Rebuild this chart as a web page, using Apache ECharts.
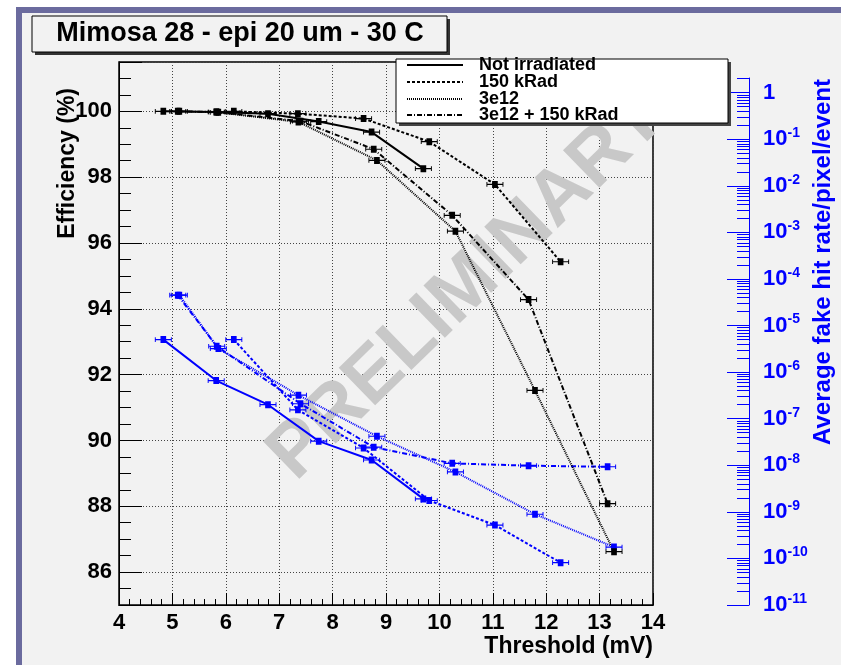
<!DOCTYPE html>
<html>
<head>
<meta charset="utf-8">
<script src="https://cdn.jsdelivr.net/npm/echarts@6.0.0/dist/echarts.min.js"></script>
<style>
html, body { margin: 0; padding: 0; background: #fff; }
#chart { width: 841px; height: 665px; }
</style>
</head>
<body>
<div id="chart"></div>
<script>
// values
var seriesNames = ['Not irradiated', '150 kRad', '3e12', '3e12 + 150 kRad'];

var notIrrX    = [4.83, 5.82, 6.79, 7.74, 8.73, 9.70];
var notIrrEff  = [100.0, 99.98, 99.93, 99.69, 99.37, 98.26];
var notIrrFake = [5.0e-6, 6.6e-7, 2.0e-7, 3.3e-8, 1.3e-8, 1.9e-9];

var k150X    = [6.15, 7.35, 8.58, 9.81, 11.04, 12.27];
var k150Eff  = [100.0, 99.93, 99.78, 99.08, 97.78, 95.43];
var k150Fake = [5.0e-6, 1.55e-7, 2.35e-8, 1.75e-9, 5.2e-10, 8.1e-11];

var e12X    = [5.13, 5.86, 7.36, 8.83, 10.30, 11.79, 13.27];
var e12Eff  = [100.0, 99.97, 99.68, 98.51, 96.36, 91.52, 86.62];
var e12Fake = [4.5e-5, 3.2e-6, 3.2e-7, 4.2e-8, 7.2e-9, 8.9e-10, 1.75e-10];

var e12kX    = [5.10, 5.83, 7.40, 8.77, 10.24, 11.67, 13.15];
var e12kEff  = [100.0, 99.98, 99.70, 98.85, 96.84, 94.28, 88.08];
var e12kFake = [4.5e-5, 3.6e-6, 2.1e-7, 2.45e-8, 1.1e-8, 9.8e-9, 9.3e-9];

var rateTicks = [1e-11, 1e-10, 1e-9, 1e-8, 1e-7, 1e-6, 1e-5, 1e-4, 1e-3, 1e-2, 1e-1, 1];

// minor log ticks 2..9 inside each decade
var rateMinor = [];
for (var d = 0; d < rateTicks.length - 1; d++) {
  for (var k = 2; k <= 9; k++) rateMinor.push(rateTicks[d] * k);
}
rateMinor.push(2);

var FONT = '"Liberation Sans", Arial, Helvetica, sans-serif';
var BLUE = '#0000ff';
var dashes = ['solid', [3, 2], [1, 1], [5, 2, 1, 2]];
var errSym = 'path://M0,2h1v1.5h5v-2.5h6v2.5h5v-1.5h1v4h-1v-1.5h-5v2.5h-6v-2.5h-5v1.5h-1z';

function pairs(xs, ys) {
  return xs.map(function (x, i) { return [x, ys[i]]; });
}

function mkSeries(name, xs, ys, idx, blue) {
  var c = blue ? BLUE : '#000';
  return {
    type: 'line',
    name: name,
    xAxisIndex: blue ? 1 : 0,
    yAxisIndex: blue ? 1 : 0,
    data: pairs(xs, ys),
    symbol: errSym,
    symbolSize: [17, 7],
    showSymbol: true,
    silent: true,
    animation: false,
    lineStyle: { color: c, width: 2, type: dashes[idx] },
    itemStyle: { color: c }
  };
}

function rateLabel(v) {
  var n = Math.round(Math.log10(v));
  if (n === 0) return '{b|1}';
  return '{b|10}{s|' + n + '}';
}

var myChart = echarts.init(document.getElementById('chart'), null, { renderer: 'canvas' });

var legendEls = [];
var legendY = [65, 82, 99, 115];
seriesNames.forEach(function (n, i) {
  legendEls.push({
    type: 'line', z: 20,
    shape: { x1: 407, y1: legendY[i], x2: 463, y2: legendY[i] },
    style: { stroke: '#000', lineWidth: 2, lineDash: dashes[i] === 'solid' ? null : dashes[i] }
  });
  legendEls.push({
    type: 'text', z: 20, x: 479, y: legendY[i],
    style: { text: n, font: 'bold 18px ' + FONT, fill: '#000',
      align: 'left', verticalAlign: 'middle', textAlign: 'left', textVerticalAlign: 'middle' }
  });
});

myChart.setOption({
  backgroundColor: '#fff',
  animation: false,
  graphic: {
    elements: [
      { type: 'rect', z: -100, silent: true, shape: { x: 16, y: 7, width: 825, height: 658 }, style: { fill: '#6b6b9e' } },
      { type: 'rect', z: -99, silent: true, shape: { x: 22, y: 13, width: 819, height: 652 }, style: { fill: '#f2f2f2' } },
      // title box
      { type: 'rect', z: 18, shape: { x: 35, y: 19, width: 415, height: 36 }, style: { fill: '#333' } },
      { type: 'rect', z: 19, shape: { x: 32, y: 16, width: 415, height: 36 }, style: { fill: '#f2f2f2', stroke: '#000', lineWidth: 1 } },
      { type: 'text', z: 20, x: 240, y: 34,
        style: { text: 'Mimosa 28 - epi 20 um - 30 C', font: 'bold 27px ' + FONT, fill: '#000',
          align: 'center', verticalAlign: 'middle', textAlign: 'center', textVerticalAlign: 'middle' } },
      // legend box
      { type: 'rect', z: 18, shape: { x: 399, y: 62, width: 332, height: 64 }, style: { fill: '#444' } },
      { type: 'rect', z: 19, shape: { x: 396, y: 59, width: 332, height: 64 }, style: { fill: '#fff', stroke: '#000', lineWidth: 1 } }
    ].concat(legendEls).concat([
      // watermark
      { type: 'text', z: 1, x: 468, y: 286, rotation: 0.77,
        style: { text: 'PRELIMINARY', font: 'bold 76px ' + FONT, fill: '#c8c8c8',
          align: 'center', verticalAlign: 'middle', textAlign: 'center', textVerticalAlign: 'middle' } },
      // axis titles
      { type: 'text', z: 20, x: 68, y: 88, rotation: Math.PI / 2,
        style: { text: 'Efficiency (%)', font: 'bold 23px ' + FONT, fill: '#000',
          align: 'right', verticalAlign: 'middle', textAlign: 'right', textVerticalAlign: 'middle' } },
      { type: 'text', z: 20, x: 653, y: 647,
        style: { text: 'Threshold (mV)', font: 'bold 23px ' + FONT, fill: '#000',
          align: 'right', verticalAlign: 'middle', textAlign: 'right', textVerticalAlign: 'middle' } },
      { type: 'text', z: 20, x: 823, y: 79, rotation: Math.PI / 2,
        style: { text: 'Average fake hit rate/pixel/event', font: 'bold 24px ' + FONT, fill: BLUE,
          align: 'right', verticalAlign: 'middle', textAlign: 'right', textVerticalAlign: 'middle' } }
    ])
  },
  grid: [
    { left: 119, right: 188, top: 62, bottom: 60, show: true, borderColor: '#000', borderWidth: 1.5,
      backgroundColor: 'transparent', containLabel: false, outerBoundsMode: 'none' },
    { left: 119, right: 188, top: 78, bottom: 60, show: false, containLabel: false, outerBoundsMode: 'none' }
  ],
  xAxis: [
    {
      gridIndex: 0, type: 'value', min: 4, max: 14, interval: 1,
      axisLine: { show: true, onZero: false, lineStyle: { color: '#000', width: 1 } },
      axisTick: { show: true, inside: true, length: 12, lineStyle: { color: '#000' } },
      minorTick: { show: true, splitNumber: 5, length: 6, lineStyle: { color: '#000' } },
      axisLabel: { margin: 7, color: '#000', fontSize: 22, fontWeight: 'bold', fontFamily: FONT,
        showMinLabel: true, showMaxLabel: true },
      splitLine: { show: true, lineStyle: { color: '#444', type: [1, 2], width: 1 } }
    },
    { gridIndex: 1, type: 'value', min: 4, max: 14, show: false }
  ],
  yAxis: [
    {
      gridIndex: 0, type: 'value', min: 85, max: 101.5, splitNumber: 8,
      axisLine: { show: true, onZero: false, lineStyle: { color: '#000', width: 1 } },
      axisTick: { show: true, inside: true, length: 23, lineStyle: { color: '#000' } },
      minorTick: { show: true, splitNumber: 4, length: 12, lineStyle: { color: '#000' } },
      axisLabel: { margin: 7, color: '#000', fontSize: 22, fontWeight: 'bold', fontFamily: FONT,
        showMinLabel: false, showMaxLabel: false },
      splitLine: { show: true, lineStyle: { color: '#444', type: [1, 2], width: 1 } }
    },
    {
      gridIndex: 1, type: 'log', logBase: 10, min: 1e-11, max: 2.07,
      position: 'right', offset: 96,
      axisLine: { show: true, lineStyle: { color: BLUE, width: 1 } },
      axisTick: { show: true, inside: true, length: 22, customValues: rateTicks, lineStyle: { color: BLUE } },
      axisLabel: {
        customValues: rateTicks, margin: 14, formatter: rateLabel,
        rich: {
          b: { fontSize: 22, fontWeight: 'bold', color: BLUE, fontFamily: FONT, lineHeight: 26 },
          s: { fontSize: 14, fontWeight: 'bold', color: BLUE, fontFamily: FONT, verticalAlign: 'top', lineHeight: 14 }
        }
      },
      splitLine: { show: false }
    },
    {
      gridIndex: 1, type: 'log', logBase: 10, min: 1e-11, max: 2.07,
      position: 'right', offset: 96,
      axisLine: { show: false },
      axisTick: { show: true, inside: true, length: 12, customValues: rateMinor, lineStyle: { color: BLUE } },
      axisLabel: { show: false },
      splitLine: { show: false }
    }
  ],
  series: [
    mkSeries(seriesNames[0], notIrrX, notIrrFake, 0, true),
    mkSeries(seriesNames[1], k150X, k150Fake, 1, true),
    mkSeries(seriesNames[2], e12X, e12Fake, 2, true),
    mkSeries(seriesNames[3], e12kX, e12kFake, 3, true),
    mkSeries(seriesNames[0], notIrrX, notIrrEff, 0, false),
    mkSeries(seriesNames[1], k150X, k150Eff, 1, false),
    mkSeries(seriesNames[2], e12X, e12Eff, 2, false),
    mkSeries(seriesNames[3], e12kX, e12kEff, 3, false)
  ]
});
</script>
</body>
</html>
